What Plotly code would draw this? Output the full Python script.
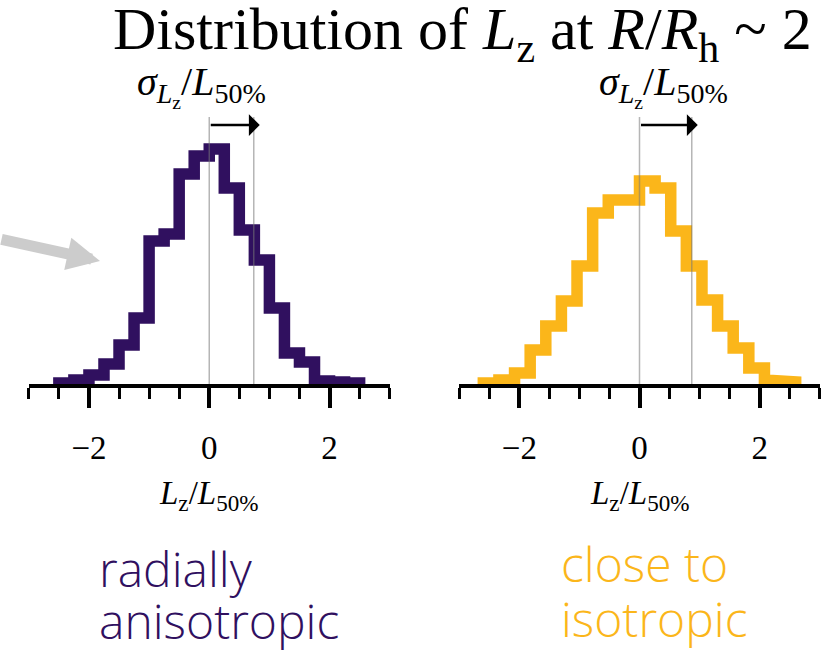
import plotly.graph_objects as go

# ---- data -------------------------------------------------------------
# L_z / L_50% bin edges and histogram heights for the two samples
edges_radial = [round(0.25 * k, 2) for k in range(-10, 11)]
counts_radial = [1, 4, 9, 20, 39, 66, 143, 150, 210, 228,
                 235, 196, 154, 124, 76, 31, 22, 3, 2, 1]
edges_iso = [round(0.26 * k, 2) for k in range(-10, 11)]
counts_iso = [1, 4, 11, 34, 58, 83, 118, 171, 184, 184,
              203, 196, 153, 118, 84, 58, 36, 16, 4, 2]
sigma_radial = 0.74
sigma_iso = 0.87
tick_values = [-2, 0, 2]
tick_labels = ["\u22122", "0", "2"]
panel_labels = [["radially", "anisotropic"], ["close to", "isotropic"]]

# ---- style ------------------------------------------------------------
W, H = 821, 650
PURPLE = "#30105f"
YELLOW = "#fbb61a"
SERIF = "Liberation Serif"
SANS = "Open Sans"
ARROW_OVERSHOOT = 0.1
Y_BOTTOM, Y_TOP = 384, 117          # pixel rows of the panel box


def px_x(p):
    return p / W


def px_y(p):
    return 1 - p / H


def dom_y(p):
    return (Y_BOTTOM - p) / (Y_BOTTOM - Y_TOP)


def step_outline(edges, counts):
    xs, ys = [edges[0]], [0]
    for i, c in enumerate(counts):
        xs += [edges[i], edges[i + 1]]
        ys += [c, c]
    xs.append(edges[-1])
    ys.append(0)
    return xs, ys


fig = go.Figure()

panels = [
    dict(edges=edges_radial, counts=counts_radial, sigma=sigma_radial,
         color=PURPLE, dom=[px_x(28.5), px_x(390)], cx=201, tx=97,
         ty=[568, 620]),
    dict(edges=edges_iso, counts=counts_iso, sigma=sigma_iso,
         color=YELLOW, dom=[px_x(459), px_x(820)], cx=663, tx=559,
         ty=[563, 618]),
]

ydom = [px_y(Y_BOTTOM), px_y(Y_TOP)]
annotations = []
shapes = []

for i, p in enumerate(panels):
    suffix = "" if i == 0 else "2"
    xref, yref = "x" + suffix, "y" + suffix
    xs, ys = step_outline(p["edges"], p["counts"])
    fig.add_trace(go.Scatter(x=xs, y=ys, mode="lines",
                             line=dict(color=p["color"], width=11.5),
                             xaxis=xref, yaxis=yref,
                             hoverinfo="skip", showlegend=False))
    axis_style = dict(
        domain=p["dom"], range=[-3.005, 3.005], showgrid=False, zeroline=False,
        showline=True, linecolor="black", linewidth=3.5,
        ticks="outside", tickvals=tick_values, ticktext=tick_labels,
        ticklen=20, tickwidth=3.5, tickcolor="black", ticklabelstandoff=12,
        tickfont=dict(family=SERIF, size=33, color="black"),
        minor=dict(dtick=0.5, tick0=0, ticks="outside", ticklen=11,
                   tickwidth=3, tickcolor="black"),
        anchor=yref, fixedrange=True,
    )
    fig.update_layout(**{"xaxis" + suffix: axis_style})
    fig.update_layout(**{"yaxis" + suffix: dict(
        domain=ydom, range=[0, 267], visible=False,
        anchor=xref, fixedrange=True)})

    for xv in (0, p["sigma"]):
        shapes.append(dict(type="line", xref=xref, yref=yref + " domain",
                           x0=xv, x1=xv, y0=0, y1=1, layer="above",
                           line=dict(color="rgba(120,120,120,0.55)", width=1.5)))

    # arrow spanning the dispersion
    annotations.append(dict(
        x=p["sigma"] + ARROW_OVERSHOOT, y=dom_y(125), xref=xref, yref=yref + " domain",
        ax=0, ay=dom_y(125), axref=xref, ayref=yref + " domain",
        showarrow=True, arrowhead=1, arrowsize=1.45, arrowwidth=2.5,
        arrowcolor="black", text=""))

    # dispersion label above the panel
    annotations.append(dict(
        x=px_x(p["cx"]), y=px_y(86), xref="paper", yref="paper",
        xanchor="center", yanchor="middle", showarrow=False,
        text="<i>\u03c3</i><sub><i>L</i><sub>z</sub></sub>/<i>L</i><sub>50%</sub>",
        font=dict(family=SERIF, size=40, color="black")))

    # x-axis title
    annotations.append(dict(
        x=0, y=px_y(495), xref=xref, yref="paper",
        xanchor="center", yanchor="middle", showarrow=False,
        text="<i>L</i><sub>z</sub>/<i>L</i><sub>50%</sub>",
        font=dict(family=SERIF, size=33, color="black")))

    # description of the orbit structure
    for j, line in enumerate(panel_labels[i]):
        annotations.append(dict(
            x=px_x(p["tx"]), y=px_y(p["ty"][j]), xref="paper", yref="paper",
            xanchor="left", yanchor="middle", showarrow=False, text=line,
            font=dict(family=SANS, size=48, color=p["color"], weight=300)))

# figure title
annotations.append(dict(
    x=px_x(462), y=px_y(34), xref="paper", yref="paper",
    xanchor="center", yanchor="middle", showarrow=False,
    text="Distribution of <i>L</i><sub>z</sub> at <i>R</i>/<i>R</i><sub>h</sub> ~ 2",
    font=dict(family=SERIF, size=60, color="black")))

# grey pointer on the left
annotations.append(dict(
    x=px_x(100), y=px_y(261), xref="paper", yref="paper",
    ax=-112, ay=-22, showarrow=True, arrowhead=2, arrowsize=0.6,
    arrowwidth=11, arrowcolor="#cccccc", text=""))

fig.update_layout(
    width=W, height=H, margin=dict(l=0, r=0, t=0, b=0),
    paper_bgcolor="white", plot_bgcolor="white",
    shapes=shapes, annotations=annotations, showlegend=False,
)

fig.write_html("out.html")
